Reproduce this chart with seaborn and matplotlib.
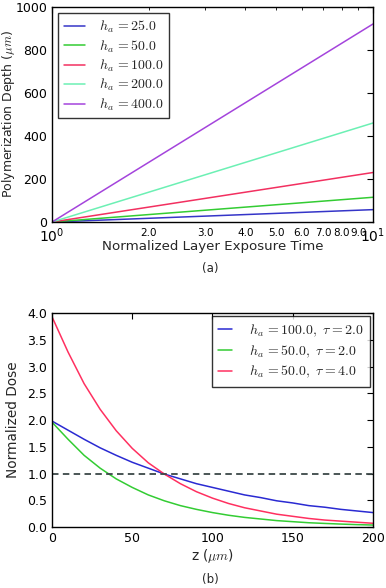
import numpy as np
import pandas as pd
import matplotlib
matplotlib.use("Agg")
import matplotlib.pyplot as plt
import matplotlib.ticker as mticker
import seaborn as sns

# ---------------- data ----------------
# (a) polymerization depth vs normalized layer exposure time (straight on log x)
time_points = [1.0, 10.0]
ha_labels_a = ["25.0", "50.0", "100.0", "200.0", "400.0"]
depth_25 = [0.0, 57.6]
depth_50 = [0.0, 115.1]
depth_100 = [0.0, 230.3]
depth_200 = [0.0, 460.5]
depth_400 = [0.0, 921.0]

# (b) normalized dose vs z
z_um = [0, 10, 20, 30, 40, 50, 60, 70, 80, 90, 100,
        110, 120, 130, 140, 150, 160, 170, 180, 190, 200]
dose_h100_t2 = [1.98, 1.81, 1.64, 1.48, 1.34, 1.21, 1.10, 0.99, 0.90, 0.81, 0.74,
                0.67, 0.60, 0.55, 0.49, 0.45, 0.40, 0.37, 0.33, 0.30, 0.27]
dose_h50_t2 = [1.96, 1.64, 1.34, 1.10, 0.90, 0.74, 0.60, 0.49, 0.40, 0.33, 0.27,
               0.22, 0.18, 0.15, 0.12, 0.10, 0.08, 0.067, 0.055, 0.045, 0.037]
dose_h50_t4 = [3.93, 3.27, 2.68, 2.20, 1.80, 1.47, 1.20, 0.99, 0.81, 0.66, 0.54,
               0.44, 0.36, 0.30, 0.24, 0.20, 0.16, 0.13, 0.11, 0.09, 0.07]
labels_b = [r"$h_a\,=100.0,\ \tau=2.0$", r"$h_a\,=50.0,\ \tau=2.0$", r"$h_a\,=50.0,\ \tau=4.0$"]
threshold = 1.0

# ---------------- styling ----------------
sns.set_style("white")
plt.rcParams.update({
    "font.family": ["DejaVu Sans"],
    "mathtext.fontset": "cm",
    "xtick.direction": "in",
    "ytick.direction": "in",
    "xtick.top": True,
    "ytick.right": True,
    "xtick.major.size": 4,
    "ytick.major.size": 4,
    "xtick.minor.size": 2,
    "ytick.minor.size": 2,
    "axes.edgecolor": "black",
    "axes.linewidth": 1.0,
    "xtick.color": "black",
    "ytick.color": "black",
})

colors_a = ["#3535c8", "#33cc33", "#f23060", "#6cf0b4", "#a444dc"]
colors_b = ["#2a2ad2", "#33cc33", "#ff3060"]

fig = plt.figure(figsize=(3.86, 5.88), dpi=100)
ax1 = fig.add_axes([0.1347, 0.6224, 0.8316, 0.3657])
ax2 = fig.add_axes([0.1347, 0.1037, 0.8316, 0.3640])

# ---- (a)
depths = [depth_25, depth_50, depth_100, depth_200, depth_400]
rows = []
for lab, d in zip(ha_labels_a, depths):
    for t, v in zip(time_points, d):
        rows.append({"t": t, "depth": v, "series": lab})
df_a = pd.DataFrame(rows)
sns.lineplot(data=df_a, x="t", y="depth", hue="series", hue_order=ha_labels_a,
             palette=colors_a, lw=1.1, ax=ax1, legend=False)
ax1.set_xscale("log")
ax1.set_xlim(1, 10)
ax1.set_ylim(0, 1000)
ax1.set_yticks([0, 200, 400, 600, 800, 1000])
ax1.xaxis.set_minor_locator(mticker.LogLocator(base=10, subs=np.arange(2, 10)))
ax1.xaxis.set_minor_formatter(mticker.FuncFormatter(lambda x, p: f"{x:.1f}"))
ax1.tick_params(axis="x", which="minor", labelsize=7.5, pad=4)
ax1.tick_params(axis="x", which="major", labelsize=10, pad=3)
ax1.tick_params(axis="y", labelsize=9)
ax1.set_xlabel("Normalized Layer Exposure Time", fontsize=9.6)
ax1.xaxis.set_label_coords(0.5, -0.085)
ax1.set_ylabel(r"Polymerization Depth ($\mu m$)", fontsize=9.0)
ax1.yaxis.set_label_coords(-0.11, 0.5)
handles = [plt.Line2D([], [], color=c, lw=1.1) for c in colors_a]
leg1 = ax1.legend(handles, [r"$h_a\,=" + lab + r"$" for lab in ha_labels_a],
                  loc="upper left", fontsize=10, frameon=True, fancybox=False,
                  edgecolor="black", labelspacing=0.22, handlelength=1.5,
                  handletextpad=1.0, borderaxespad=0.45, borderpad=0.4)
leg1.get_frame().set_linewidth(1.0)
for sp in ax1.spines.values():
    sp.set_visible(True)

# ---- (b)
rows = []
for lab, d in zip(labels_b, [dose_h100_t2, dose_h50_t2, dose_h50_t4]):
    for z, v in zip(z_um, d):
        rows.append({"z": z, "dose": v, "series": lab})
df_b = pd.DataFrame(rows)
sns.lineplot(data=df_b, x="z", y="dose", hue="series", hue_order=labels_b,
             palette=colors_b, lw=1.1, ax=ax2, legend=False)
ax2.axhline(threshold, color="#3c4848", lw=1.3, ls=(0, (3.6, 2.4)))
ax2.set_xlim(0, 200)
ax2.set_ylim(0, 4.0)
ax2.set_xticks([0, 50, 100, 150, 200])
ax2.set_yticks(np.arange(0, 4.01, 0.5))
ax2.yaxis.set_major_formatter(mticker.FormatStrFormatter("%.1f"))
ax2.tick_params(labelsize=9)
ax2.set_xlabel(r"z ($\mu m$)", fontsize=9.8)
ax2.xaxis.set_label_coords(0.5, -0.095)
ax2.set_ylabel("Normalized Dose", fontsize=9.8)
ax2.yaxis.set_label_coords(-0.10, 0.5)
handles = [plt.Line2D([], [], color=c, lw=1.1) for c in colors_b]
leg2 = ax2.legend(handles, labels_b, loc="upper right", fontsize=10,
                  frameon=True, fancybox=False, edgecolor="black",
                  labelspacing=0.32, handlelength=1.0, handletextpad=1.2,
                  borderaxespad=0.25, borderpad=0.45)
leg2.get_frame().set_linewidth(1.0)
for sp in ax2.spines.values():
    sp.set_visible(True)

fig.text(0.545, 1 - 268 / 588, "(a)", ha="center", va="center", fontsize=8.5)
fig.text(0.545, 1 - 580 / 588, "(b)", ha="center", va="center", fontsize=8.5)

fig.savefig("out.png", dpi=100)
